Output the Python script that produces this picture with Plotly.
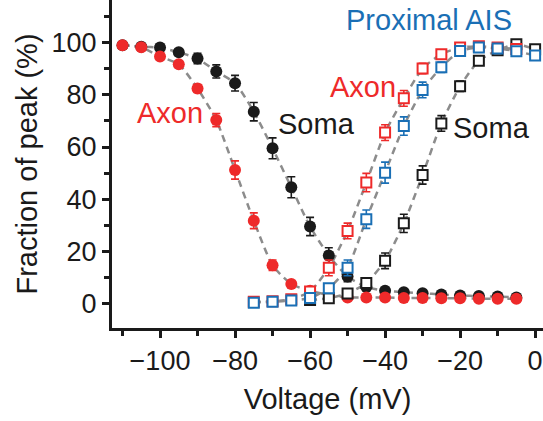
import plotly.graph_objects as go

# ---- data ----
v_inact = [-110, -105, -100, -95, -90, -85, -80, -75, -70, -65, -60, -55, -50, -45,
           -40, -35, -30, -25, -20, -15, -10, -5]
axon_inact = [98.9, 98.1, 94.6, 91.6, 82.4, 70.3, 51.2, 31.8, 14.8, 7.6, 5.0, 3.5, 2.5, 2.5,
              2.5, 2.3, 2.3, 2.2, 2.2, 2.0, 2.0, 2.0]
axon_inact_err = [0.8, 0.8, 1.0, 1.0, 1.5, 2.5, 3.5, 3.0, 2.0, 1.0, 0.8, 0.6, 0.5, 0.5,
                  0.5, 0.5, 0.5, 0.5, 0.5, 0.5, 0.5, 0.5]
soma_inact = [98.9, 98.3, 98.0, 96.2, 93.8, 88.9, 84.4, 73.5, 59.5, 44.6, 29.6, 18.5, 10.5, 6.5,
              5.0, 4.5, 4.1, 3.6, 3.2, 3.0, 2.8, 2.5]
soma_inact_err = [0.8, 0.8, 1.0, 1.2, 2.0, 2.5, 3.0, 3.5, 4.0, 4.0, 3.5, 3.0, 2.0, 1.2,
                  0.8, 0.6, 0.5, 0.5, 0.5, 0.5, 0.5, 0.5]

v_ais = [-75, -70, -65, -60, -55, -50, -45, -40, -35, -30, -25, -20, -15, -10, -5, 0]
ais_act = [0.5, 0.8, 1.3, 2.3, 6.0, 13.8, 32.4, 50.2, 68.0, 81.8, 90.5, 96.7, 98.0, 97.7, 96.6, 95.0]
ais_act_err = [0.5, 0.5, 0.6, 0.8, 1.5, 3.0, 3.5, 4.0, 3.5, 3.0, 2.0, 1.5, 1.0, 1.0, 1.5, 1.5]

v_axon = [-75, -70, -65, -60, -55, -50, -45, -40, -35, -30, -25, -20, -15, -10, -5]
axon_act = [0.8, 1.0, 1.8, 4.8, 13.8, 27.9, 46.4, 65.5, 78.6, 90.0, 95.5, 98.0, 98.5, 98.0, 97.5]
axon_act_err = [0.5, 0.5, 0.6, 1.0, 3.0, 3.0, 3.5, 3.0, 3.0, 2.0, 1.5, 1.0, 1.0, 1.0, 1.5]

v_soma = [-60, -55, -50, -45, -40, -35, -30, -25, -20, -15, -10, -5, 0]
soma_act = [1.5, 2.2, 4.0, 8.0, 16.5, 30.8, 49.3, 69.0, 83.2, 93.0, 97.0, 99.3, 97.4]
soma_act_err = [0.5, 0.8, 1.2, 2.0, 3.0, 3.5, 3.5, 3.0, 2.0, 1.5, 1.0, 1.0, 1.5]

x_ticks = [-100, -80, -60, -40, -20, 0]
x_tick_labels = ["\u2212100", "\u221280", "\u221260", "\u221240", "\u221220", "0"]
y_ticks = [0, 20, 40, 60, 80, 100]

RED = "#ee2a2a"
BLACK = "#1a1a1a"
BLUE = "#1a6fb5"
GRAY = "#8c8c8c"
FONT = "Liberation Sans, Arial, sans-serif"

fig = go.Figure()

# dashed fit-like lines underneath
for xs, ys in [(v_inact, soma_inact), (v_inact, axon_inact), (v_soma, soma_act),
               (v_axon, axon_act), (v_ais, ais_act)]:
    fig.add_trace(go.Scatter(x=xs, y=ys, mode="lines", hoverinfo="skip",
                             line=dict(color=GRAY, width=2.5, dash="7px,5px", shape="spline",
                                       smoothing=0.6)))

def add_pts(xs, ys, err, color, symbol, size, filled):
    fig.add_trace(go.Scatter(
        x=xs, y=ys, mode="markers",
        error_y=dict(type="data", array=err, visible=True, color=color,
                     thickness=1.6, width=4),
        marker=dict(symbol=symbol, size=size,
                    color=color if filled else "white",
                    line=dict(color=color, width=0 if filled else 2))))

add_pts(v_inact, soma_inact, soma_inact_err, BLACK, "circle", 12, True)
add_pts(v_inact, axon_inact, axon_inact_err, RED, "circle", 12, True)
add_pts(v_soma, soma_act, soma_act_err, BLACK, "square", 10, False)
add_pts(v_axon, axon_act, axon_act_err, RED, "square", 10, False)
add_pts(v_ais, ais_act, ais_act_err, BLUE, "square", 10, False)

ann = [
    ("Axon", -97.3, 73.0, RED),
    ("Soma", -58.4, 68.8, BLACK),
    ("Axon", -46.0, 83.1, RED),
    ("Soma", -11.6, 67.4, BLACK),
    ("Proximal AIS", -28.3, 108.5, BLUE),
]
for t, ax, ay, c in ann:
    fig.add_annotation(x=ax, y=ay, text=t, showarrow=False,
                       font=dict(family=FONT, size=29, color=c))

fig.update_layout(
    width=543, height=421,
    margin=dict(l=112, r=0, t=0, b=93),
    paper_bgcolor="white", plot_bgcolor="white",
    showlegend=False,
    font=dict(family=FONT, color=BLACK),
)
fig.update_xaxes(
    range=[-112.8, 2.1], tickvals=x_ticks, ticktext=x_tick_labels,
    showline=True, linewidth=3, linecolor=BLACK, mirror=False,
    ticks="outside", ticklen=7, tickwidth=2.5, tickcolor=BLACK,
    minor=dict(dtick=10, tick0=0, ticks="outside", ticklen=5, tickwidth=2.5, tickcolor=BLACK),
    tickfont=dict(size=27, family=FONT, color=BLACK),
    showgrid=False, zeroline=False,
    title=dict(text="Voltage (mV)", font=dict(size=29, family=FONT, color=BLACK), standoff=14),
)
fig.update_yaxes(
    range=[-9.2, 116.2], tickvals=y_ticks,
    showline=True, linewidth=3, linecolor=BLACK,
    ticks="outside", ticklen=7, tickwidth=2.5, tickcolor=BLACK,
    minor=dict(dtick=10, tick0=0, ticks="outside", ticklen=5, tickwidth=2.5, tickcolor=BLACK),
    tickfont=dict(size=27, family=FONT, color=BLACK),
    showgrid=False, zeroline=False,
    title=dict(text="Fraction of peak (%)", font=dict(size=29, family=FONT, color=BLACK), standoff=6),
)

fig.write_html("out.html")
